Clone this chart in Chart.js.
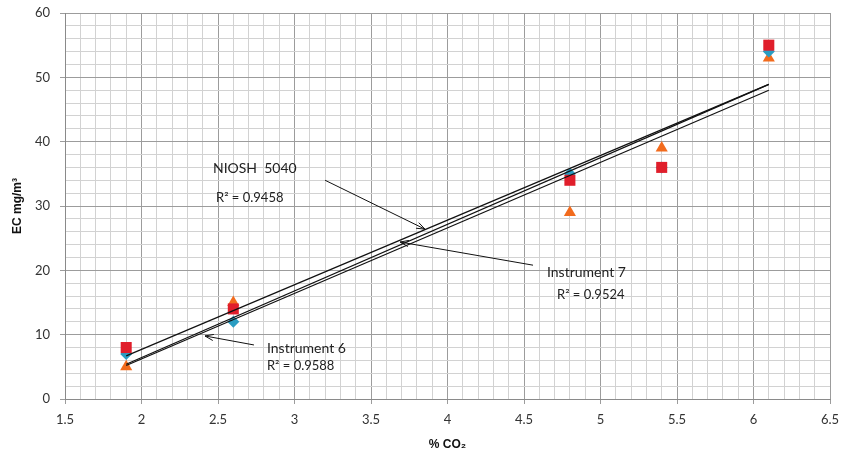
<!DOCTYPE html>
<html>
<head>
<meta charset="utf-8">
<script src="https://cdn.jsdelivr.net/npm/chart.js@4.4.1/dist/chart.umd.min.js"></script>
<style>
  html, body { margin: 0; padding: 0; background: #fff; }
  #wrap { width: 844px; height: 457px; }
</style>
</head>
<body>
<div id="wrap"><canvas id="chart" width="844" height="457"></canvas></div>
<script>
// CO2 values (x) shared by all series
const co2 = [1.9, 2.6, 4.8, 5.4, 6.1];

// EC readings (mg/m3)
const niosh5040 = [8, 14, 34, 36, 55];
const instrument6 = [7, 12, 35, 36, 54];
const instrument7 = [5, 15, 29, 39, 53];

// trendline end points (x = 1.9 and 6.1)
const trendX = [1.9, 6.1];
const trendNiosh = [6.7, 48.9];
const trendInst6 = [5.4, 48.9];
const trendInst7 = [5.2, 48.0];

// axis ticks
const xMin = 1.5, xMax = 6.5;
const yMin = 0, yMax = 60;

function pts(xs, ys) {
    return xs.map(function (x, i) { return { x: x, y: ys[i] }; });
}

// text labels and arrows, in chart (data) units
const notes = [
    { text: 'NIOSH  5040', x: 2.467, y: 35.9 },
    { text: 'R\u00b2 = 0.9458', x: 2.487, y: 31.2, size: 13 },
    { text: 'Instrument 7', x: 4.65, y: 19.7 },
    { text: 'R\u00b2 = 0.9524', x: 4.716, y: 16.2, size: 13 },
    { text: 'Instrument 6', x: 2.82, y: 7.8 },
    { text: 'R\u00b2 = 0.9588', x: 2.82, y: 5.1, size: 13 }
];
const arrows = [
    { from: [3.2, 34.0], to: [3.853, 26.4] },
    { from: [4.559, 20.8], to: [3.69, 24.4] },
    { from: [2.735, 8.4], to: [2.415, 9.8] }
];

const notesPlugin = {
    id: 'notes',
    afterDatasetsDraw: function (chart) {
        const ctx = chart.ctx;
        const xs = chart.scales.x, ys = chart.scales.y;
        ctx.save();
        ctx.fillStyle = '#222';
        ctx.textBaseline = 'middle';
        ctx.textAlign = 'left';
        notes.forEach(function (n) {
            ctx.font = (n.size || 14) + 'px Lato, "Noto Sans", sans-serif';
            ctx.fillText(n.text, xs.getPixelForValue(n.x), ys.getPixelForValue(n.y));
        });
        ctx.strokeStyle = '#111';
        ctx.lineWidth = 1;
        arrows.forEach(function (a) {
            const x1 = xs.getPixelForValue(a.from[0]), y1 = ys.getPixelForValue(a.from[1]);
            const x2 = xs.getPixelForValue(a.to[0]), y2 = ys.getPixelForValue(a.to[1]);
            const ang = Math.atan2(y2 - y1, x2 - x1);
            ctx.beginPath();
            ctx.moveTo(x1, y1);
            ctx.lineTo(x2, y2);
            ctx.moveTo(x2 - 9 * Math.cos(ang - 0.35), y2 - 9 * Math.sin(ang - 0.35));
            ctx.lineTo(x2, y2);
            ctx.lineTo(x2 - 9 * Math.cos(ang + 0.35), y2 - 9 * Math.sin(ang + 0.35));
            ctx.stroke();
        });
        ctx.restore();
    }
};

function isMajorX(v) { return Math.round(v * 10) % 5 === 0; }
function isMajorY(v) { return Math.round(v) % 10 === 0; }

const tickFont = { family: 'Lato, "Noto Sans", sans-serif', size: 13 };
const titleFont = { family: '"Liberation Sans", Arial, sans-serif', size: 12, weight: 'bold' };

const trendStyle = {
    type: 'line', borderColor: '#111', borderWidth: 1.2, pointRadius: 0,
    fill: false, showLine: true, order: 0
};

new Chart(document.getElementById('chart'), {
    type: 'scatter',
    data: {
        datasets: [
            Object.assign({ label: 'NIOSH 5040 trend', data: pts(trendX, trendNiosh) }, trendStyle),
            Object.assign({ label: 'Instrument 6 trend', data: pts(trendX, trendInst6) }, trendStyle),
            Object.assign({ label: 'Instrument 7 trend', data: pts(trendX, trendInst7) }, trendStyle),
            {
                label: 'NIOSH 5040', data: pts(co2, niosh5040), order: 1,
                pointStyle: 'rect', pointRadius: 7.8, backgroundColor: '#e01e2b', borderColor: '#e01e2b', borderWidth: 0
            },
            {
                label: 'Instrument 6', data: pts(co2, instrument6), order: 2,
                pointStyle: 'rectRot', pointRadius: 6, backgroundColor: '#2a9dc2', borderColor: '#2a9dc2', borderWidth: 0
            },
            {
                label: 'Instrument 7', data: pts(co2, instrument7), order: 3,
                pointStyle: 'triangle', pointRadius: 7, backgroundColor: '#f26b1d', borderColor: '#f26b1d', borderWidth: 0
            }
        ]
    },
    options: {
        responsive: false,
        animation: false,
        layout: { padding: { top: 13, right: 14, left: 0, bottom: 0 } },
        plugins: { legend: { display: false }, tooltip: { enabled: false } },
        scales: {
            x: {
                type: 'linear', min: xMin, max: xMax,
                afterFit: function (s) { s.height = 58; s.paddingLeft = 0; s.paddingRight = 0; },
                border: { color: '#8a8a8a', width: 1 },
                grid: {
                    color: function (c) { return isMajorX(c.tick.value) ? '#9c9c9c' : '#d2d2d2'; },
                    tickColor: function (c) { return isMajorX(c.tick.value) ? '#9c9c9c' : 'rgba(0,0,0,0)'; },
                    tickLength: 5
                },
                ticks: {
                    stepSize: 0.1, autoSkip: false, maxRotation: 0, padding: 8,
                    color: '#333', font: tickFont,
                    callback: function (v) { return isMajorX(v) ? String(Math.round(v * 10) / 10) : ''; }
                },
                title: { display: true, text: '% CO\u2082', color: '#111', font: titleFont, padding: { top: 0, bottom: 5 } }
            },
            y: {
                type: 'linear', min: yMin, max: yMax,
                afterFit: function (s) { s.width = 65; s.paddingTop = 0; s.paddingBottom = 0; },
                border: { color: '#8a8a8a', width: 1 },
                grid: {
                    color: function (c) { return isMajorY(c.tick.value) ? '#9c9c9c' : '#d2d2d2'; },
                    tickColor: function (c) { return isMajorY(c.tick.value) ? '#9c9c9c' : 'rgba(0,0,0,0)'; },
                    tickLength: 5
                },
                ticks: {
                    stepSize: 2, autoSkip: false, padding: 10,
                    color: '#333', font: tickFont,
                    callback: function (v) { return isMajorY(v) ? String(v) : ''; }
                },
                title: { display: true, text: 'EC mg/m\u00b3', color: '#111', font: titleFont, padding: { top: 10, bottom: 0 } }
            }
        }
    },
    plugins: [notesPlugin]
});
</script>
</body>
</html>
